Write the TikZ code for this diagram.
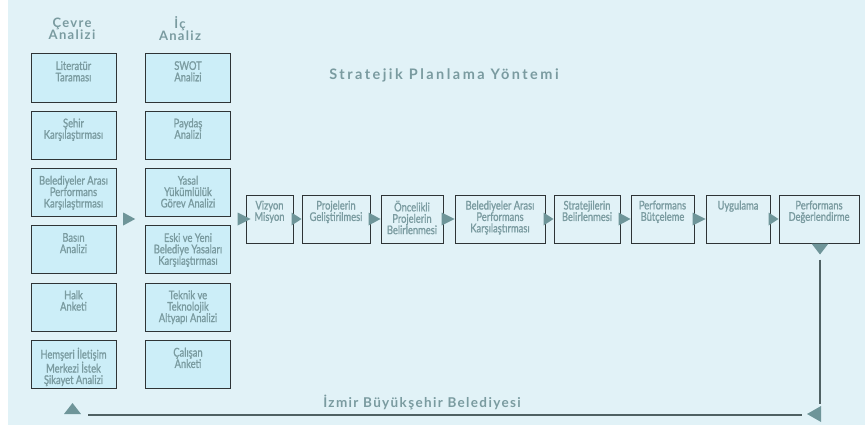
\documentclass[tikz,border=0pt]{standalone}
\usepackage{fontspec}
\setmainfont{Lato}
\newfontfamily\boxfont{Lato}[FakeStretch=0.78, FakeBold=1.1]
\newfontfamily\headfont{Lato}[LetterSpace=10]
\usetikzlibrary{calc,fit,backgrounds,positioning}
\definecolor{bgblue}{HTML}{E1F2F7}
\definecolor{cellblue}{HTML}{CCEEF8}
\definecolor{panelgray}{HTML}{C6DCDE}
\definecolor{txtgray}{HTML}{7A9BA0}
\definecolor{arrowteal}{HTML}{6E9599}
\definecolor{boxline}{HTML}{2E3436}
\definecolor{loopline}{HTML}{4F6163}
\tikzset{
  colbox/.style={draw=boxline, fill=cellblue, line width=1pt, minimum width=85pt, minimum height=48pt, inner sep=0pt},
  flowbox/.style={draw=boxline, fill=bgblue, line width=1pt, minimum height=48pt, inner sep=0pt},
  boxtext/.style={text=txtgray, font=\boxfont\fontsize{12}{11.4}\selectfont, align=center, anchor=north, inner sep=0pt},
  headtext/.style={text=txtgray, font=\headfont\bfseries\fontsize{13}{12}\selectfont, align=center},
  panel/.style={fill=panelgray, inner xsep=6.5pt, inner ysep=4.5pt},
  tri/.style={fill=arrowteal}
}
\begin{document}
\begin{tikzpicture}[x=1pt,y=-1pt]
    \useasboundingbox (0,0) rectangle (865,428);
    \fill[bgblue] (8,0) rectangle (865,425);

    \node[headtext] (chead) at (72,29) {Çevre\\Analizi};
    \node[headtext] (ihead) at (180,29) {İç\\Analiz};
    \node[headtext, font=\headfont\bfseries\fontsize{14.5}{16}\selectfont\addfontfeatures{LetterSpace=17}] (title) at (444,75) {Stratejik Planlama Yöntemi};
    \node[headtext, font=\headfont\bfseries\fontsize{13.5}{15}\selectfont\addfontfeatures{LetterSpace=10}] (ibb) at (422,402) {İzmir Büyükşehir Belediyesi};

    \foreach \t [count=\k] in {{Literatür\\Taraması},{Şehir\\Karşılaştırması},{Belediyeler Arası\\Performans\\Karşılaştırması},{Basın\\Analizi},{Halk\\Anketi},{Hemşeri İletişim\\Merkezi İstek\\Şikayet Analizi}}
      \node[colbox, label={[boxtext, yshift=-7.5pt]north:\t}] (c\k) at (73.5,20.7+57.3*\k) {};

    \foreach \t [count=\k] in {{SWOT\\Analizi},{Paydaş\\Analizi},{Yasal\\Yükümlülük\\Görev Analizi},{Eski ve Yeni\\Belediye Yasaları\\Karşılaştırması},{Teknik ve\\Teknolojik\\Altyapı Analizi},{Çalışan\\Anketi}}
      \node[colbox, label={[boxtext, yshift=-7.5pt]north:\t}] (i\k) at (188,20.7+57.3*\k) {};

    \begin{scope}[on background layer]
      \node[panel, fit=(c1)(c6)] (cpanel) {};
      \node[panel, fit=(i1)(i6)] (ipanel) {};
    \end{scope}

    \foreach \x/\w/\t [count=\k] in {269.5/47/{Vizyon\\Misyon},336/68/{Projelerin\\Geliştirilmesi},412/62/{Öncelikli\\Projelerin\\Belirlenmesi},500/90/{Belediyeler Arası\\Performans\\Karşılaştırması},587/66/{Stratejilerin\\Belirlenmesi},662.5/63/{Performans\\Bütçeleme},738/64/{Uygulama},819/80/{Performans\\Değerlendirme}}
      \node[flowbox, minimum width=\w pt, label={[boxtext, yshift=-6pt]north:\t}] (f\k) at (\x,219) {};

    \fill[tri] ($(cpanel.east|-f1)+(0,-6.5)$) -- ++(12,6.5) -- ++(-12,6.5) -- cycle;
    \fill[tri] ($(ipanel.east|-f1)+(0,-6.5)$) -- ++(13,6.5) -- ++(-13,6.5) -- cycle;
    \foreach \a/\b in {1/2,2/3,3/4,4/5,5/6,6/7,7/8}
      \fill[tri] ($(f\a.east)+(-2,-6.5)$) -- (f\b.west) -- ($(f\a.east)+(-2,6.5)$) -- cycle;

    \fill[tri] ($(f8.south)+(-7.5,0)$) -- ($(f8.south)+(1,11)$) -- ($(f8.south)+(9.5,0)$) -- cycle;

    \coordinate (rturn) at (820,404);
    \coordinate (lturn) at (88,415);
    \draw[loopline, line width=1.1pt] ($(f8.south)+(1,16)$) -- (rturn);
    \draw[loopline, line width=1.3pt] (lturn) -- ($(rturn)+(-18,11)$);
    \fill[tri] ($(rturn)+(-13,10)$) -- ++(14,-8) -- ++(0,16) -- cycle;
    \fill[tri] ($(lturn)+(-24,-1)$) -- ++(8.5,-11) -- ++(8.5,11) -- cycle;
\end{tikzpicture}
\end{document}
